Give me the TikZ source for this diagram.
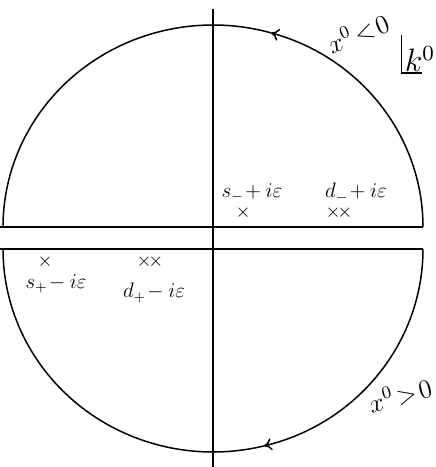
\documentclass[tikz,border=0pt]{standalone}
\usepackage{graphicx}
\usetikzlibrary{arrows.meta}
\newcommand{\lblsz}[2]{\scalebox{#1}{\fontsize{12}{12}\selectfont #2}}
\begin{document}
\begin{tikzpicture}[x=1pt,y=1pt,
  ln/.style={line width=1.5pt, black},
  lbl/.style={inner sep=0pt},
  crs/.style={inner sep=0pt}]
\useasboundingbox (0,0) rectangle (436,467);
% axes
\coordinate (vt) at (213,458);
\coordinate (vb) at (213,0);
\coordinate (ul) at (0,240);
\coordinate (ur) at (423,240);
\coordinate (ll) at (0,218);
\coordinate (lr) at (423,218);
\draw[ln] (vt) -- (vb);
\draw[ln] (ul) -- (ur);
\draw[ln] (ll) -- (lr);
% upper arc (counterclockwise arrow)
\coordinate (uc) at (213,240);
\coordinate (lc) at (213,218);
\draw[ln,-{To[length=8pt,width=12pt]}] (ur) arc[start angle=0,end angle=74,x radius=210,y radius=202];
\draw[ln] ([shift={(74:210 and 202)}]uc) arc[start angle=74,end angle=180,x radius=210,y radius=202];
% lower arc (clockwise arrow)
\draw[ln,-{To[length=8pt,width=12pt]}] (lr) arc[start angle=0,end angle=-76,x radius=210,y radius=203];
\draw[ln] ([shift={(-76:210 and 203)}]lc) arc[start angle=-76,end angle=-180,x radius=210,y radius=203];
% labels
\node[lbl] (sm) at (252,274) {\lblsz{1.75}{$s_-\!+i\varepsilon$}};
\node[crs] (xsm) at (243,254) {\lblsz{1.6}{$\times$}};
\node[lbl] (dm) at (356,274) {\lblsz{1.75}{$d_-\!+i\varepsilon$}};
\node[crs] (xdm) at (339,254) {\lblsz{1.6}{$\times\!\times$}};
\node[crs] (xsp) at (45,205) {\lblsz{1.6}{$\times$}};
\node[lbl] (sp) at (56,183) {\lblsz{1.75}{$s_+\!-i\varepsilon$}};
\node[crs] (xdp) at (150,205) {\lblsz{1.6}{$\times\!\times$}};
\node[lbl] (dp) at (154,174) {\lblsz{1.75}{$d_+\!-i\varepsilon$}};
\node[lbl,rotate=22] (xneg) at (358,434) {\lblsz{2.2}{$x^0\!<\!0$}};
\node[lbl,rotate=15] (xpos) at (400,72) {\lblsz{2.2}{$x^0\!>\!0$}};
\node[lbl] (k0) at (420,408) {\lblsz{2.7}{$k^0$}};
\coordinate (kc) at ([xshift=-3pt,yshift=-1pt]k0.south west);
\draw[line width=1.3pt] ([yshift=38pt]kc) -- (kc) -- ([xshift=20pt]kc);
\end{tikzpicture}
\end{document}
